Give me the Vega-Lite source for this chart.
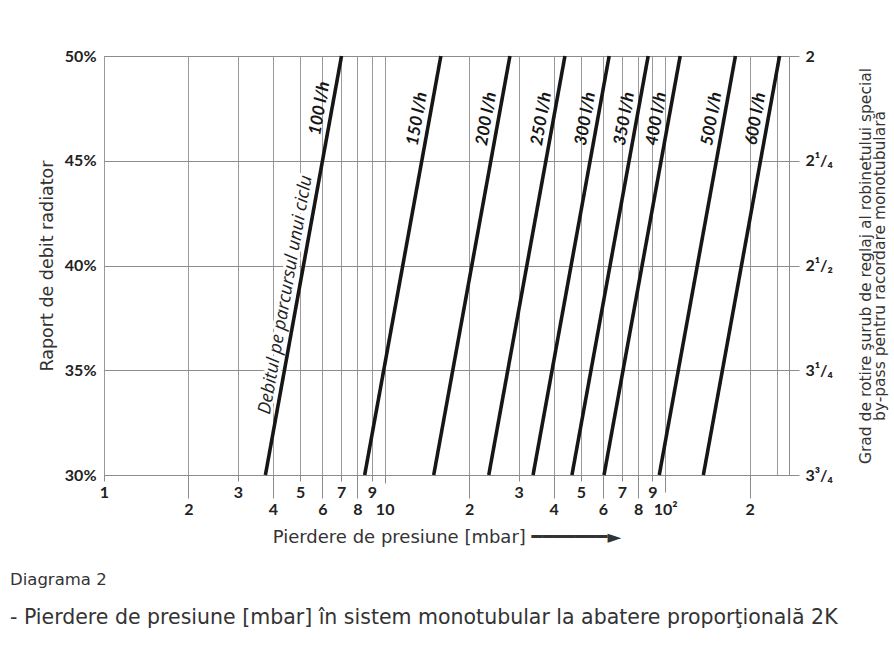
{
  "$schema": "https://vega.github.io/schema/vega-lite/v6.json",
  "width": 685,
  "height": 419,
  "autosize": {"type": "none"},
  "padding": {"left": 104, "top": 56, "right": 105, "bottom": 183},
  "background": "white",
  "config": {
    "view": {"stroke": "#8c8c8c", "strokeWidth": 1},
    "font": "Lato"
  },
  "title": {
    "text": "Diagrama 2",
    "subtitle": "-  Pierdere de presiune [mbar] în sistem monotubular la abatere proporţională 2K",
    "orient": "bottom",
    "anchor": "start",
    "frame": "group",
    "dx": -94,
    "offset": 26,
    "font": "DejaVu Sans",
    "fontSize": 16.5,
    "fontWeight": "normal",
    "color": "#333333",
    "subtitleFont": "DejaVu Sans",
    "subtitleFontSize": 20.5,
    "subtitleColor": "#333333",
    "subtitlePadding": 19
  },
  "datasets": {
    "lines": [
      {"q": "100 l/h", "p": 3.76, "r": 30}, {"q": "100 l/h", "p": 7.02, "r": 50},
      {"q": "150 l/h", "p": 8.49, "r": 30}, {"q": "150 l/h", "p": 15.86, "r": 50},
      {"q": "200 l/h", "p": 14.96, "r": 30}, {"q": "200 l/h", "p": 27.95, "r": 50},
      {"q": "250 l/h", "p": 23.5, "r": 30}, {"q": "250 l/h", "p": 43.9, "r": 50},
      {"q": "300 l/h", "p": 33.8, "r": 30}, {"q": "300 l/h", "p": 63.1, "r": 50},
      {"q": "350 l/h", "p": 46.5, "r": 30}, {"q": "350 l/h", "p": 86.9, "r": 50},
      {"q": "400 l/h", "p": 60.5, "r": 30}, {"q": "400 l/h", "p": 113, "r": 50},
      {"q": "500 l/h", "p": 95.2, "r": 30}, {"q": "500 l/h", "p": 177.8, "r": 50},
      {"q": "600 l/h", "p": 136.7, "r": 30}, {"q": "600 l/h", "p": 255.4, "r": 50}
    ],
    "labels": [
      {"q": "100 l/h", "p": 6.47, "r": 47.4},
      {"q": "150 l/h", "p": 14.4, "r": 46.9},
      {"q": "200 l/h", "p": 25.4, "r": 46.9},
      {"q": "250 l/h", "p": 39.9, "r": 46.9},
      {"q": "300 l/h", "p": 57.3, "r": 46.9},
      {"q": "350 l/h", "p": 78.9, "r": 46.9},
      {"q": "400 l/h", "p": 102.6, "r": 46.9},
      {"q": "500 l/h", "p": 161.5, "r": 46.9},
      {"q": "600 l/h", "p": 231.8, "r": 46.9}
    ],
    "note": [
      {"q": "Debitul pe parcursul unui ciclu", "p": 4.9, "r": 38.5}
    ]
  },
  "layer": [
    {
      "data": {"name": "note"},
      "mark": {"type": "text", "angle": -80, "align": "center", "baseline": "bottom", "dy": -3, "fontSize": 18, "fontStyle": "italic", "font": "Open Sans", "fill": "white", "stroke": "white", "strokeWidth": 6, "strokeJoin": "round"},
      "encoding": {
        "x": {"field": "p", "type": "quantitative", "scale": {"type": "log", "domain": [1, 276], "nice": false}},
        "y": {"field": "r", "type": "quantitative", "scale": {"domain": [30, 50], "nice": false, "zero": false}, "axis": null},
        "text": {"field": "q"}
      }
    },
    {
      "data": {"name": "lines"},
      "mark": {"type": "line", "color": "#161616", "strokeWidth": 3.6, "strokeCap": "butt"},
      "encoding": {
        "x": {
          "field": "p", "type": "quantitative",
          "scale": {"type": "log", "domain": [1, 276], "nice": false},
          "axis": {
            "title": "Pierdere de presiune [mbar]  ━━━━━━━►",
            "titleFont": "DejaVu Sans",
            "titleFontSize": 18,
            "titleFontWeight": "normal",
            "titleColor": "#333333",
            "titlePadding": 11,
            "values": [1, 2, 3, 4, 5, 6, 7, 8, 9, 10, 20, 30, 40, 50, 60, 70, 80, 90, 100, 200, 250],
            "labelExpr": "datum.value == 100 ? '10²' : datum.value == 250 ? '' : datum.value == 200 ? '2' : datum.value >= 20 ? format(datum.value / 10, 'd') : format(datum.value, 'd')",
            "labelFont": "Lato",
            "labelFontSize": 16,
            "labelFontWeight": "bold",
            "labelColor": "#222222",
            "labelBaseline": "top",
            "labelOverlap": false,
            "labelFlush": false,
            "labelBound": false,
            "tickColor": "#8c8c8c",
            "tickWidth": 1,
            "tickSize": {
              "condition": [
                {"test": "datum.value == 10", "value": 8},
                {"test": "datum.value == 100", "value": 17},
                {"test": "datum.value == 250", "value": 0},
                {"test": "indexof([2, 4, 6, 8, 20, 40, 60, 80, 200], datum.value) >= 0", "value": 23}
              ],
              "value": 6
            },
            "labelPadding": {
              "condition": [
                {"test": "datum.value == 10", "value": 18},
                {"test": "datum.value == 100", "value": 9}
              ],
              "value": 3
            },
            "grid": true,
            "gridColor": "#9a9a9a",
            "gridWidth": 1,
            "domainColor": "#8c8c8c"
          }
        },
        "y": {
          "field": "r", "type": "quantitative",
          "scale": {"domain": [30, 50], "nice": false, "zero": false},
          "axis": {
            "orient": "left",
            "title": "Raport de debit radiator",
            "titleFont": "DejaVu Sans",
            "titleFontSize": 17.5,
            "titleFontWeight": "normal",
            "titleColor": "#333333",
            "titlePadding": 8,
            "values": [30, 35, 40, 45, 50],
            "labelExpr": "datum.value + '%'",
            "labelFont": "Lato",
            "labelFontSize": 16,
            "labelFontWeight": "bold",
            "labelColor": "#222222",
            "labelPadding": 8,
            "ticks": false,
            "domain": false,
            "grid": true,
            "gridColor": "#8c8c8c",
            "gridWidth": 1
          }
        },
        "detail": {"field": "q"}
      }
    },
    {
      "data": {"name": "labels"},
      "mark": {"type": "text", "angle": -80, "align": "center", "baseline": "bottom", "dy": -3, "fontSize": 17, "fontStyle": "italic", "fontWeight": "bold", "font": "Lato", "color": "#161616"},
      "encoding": {
        "x": {"field": "p", "type": "quantitative", "scale": {"type": "log", "domain": [1, 276], "nice": false}},
        "y": {
          "field": "r", "type": "quantitative",
          "scale": {"domain": [30, 50], "nice": false, "zero": false},
          "axis": {
            "orient": "right",
            "title": ["Grad de rotire şurub de reglaj al robinetului special", "by-pass pentru racordare monotubulară"],
            "titleFont": "DejaVu Sans",
            "titleFontSize": 15.5,
            "titleFontWeight": "normal",
            "titleColor": "#333333",
            "titleAngle": 270,
            "titleBaseline": "top",
            "titleLineHeight": 13.5,
            "titlePadding": 13,
            "values": [30, 35, 40, 45, 50],
            "labelExpr": "datum.value == 50 ? '2' : datum.value == 45 ? '2¹/₄' : datum.value == 40 ? '2¹/₂' : datum.value == 35 ? '3¹/₄' : '3³/₄'",
            "labelFont": "Lato",
            "labelFontSize": 16,
            "labelFontWeight": "bold",
            "labelColor": "#222222",
            "labelAlign": "left",
            "labelPadding": 6,
            "tickSize": 10,
            "tickColor": "#8c8c8c",
            "domain": false,
            "grid": false
          }
        },
        "text": {"field": "q"}
      }
    },
    {
      "data": {"name": "note"},
      "mark": {"type": "text", "angle": -80, "align": "center", "baseline": "bottom", "dy": -3, "fontSize": 18, "fontStyle": "italic", "font": "Open Sans", "color": "#222222"},
      "encoding": {
        "x": {"field": "p", "type": "quantitative", "scale": {"type": "log", "domain": [1, 276], "nice": false}},
        "y": {"field": "r", "type": "quantitative", "scale": {"domain": [30, 50], "nice": false, "zero": false}, "axis": null},
        "text": {"field": "q"}
      }
    }
  ],
  "resolve": {"axis": {"y": "independent"}}
}
